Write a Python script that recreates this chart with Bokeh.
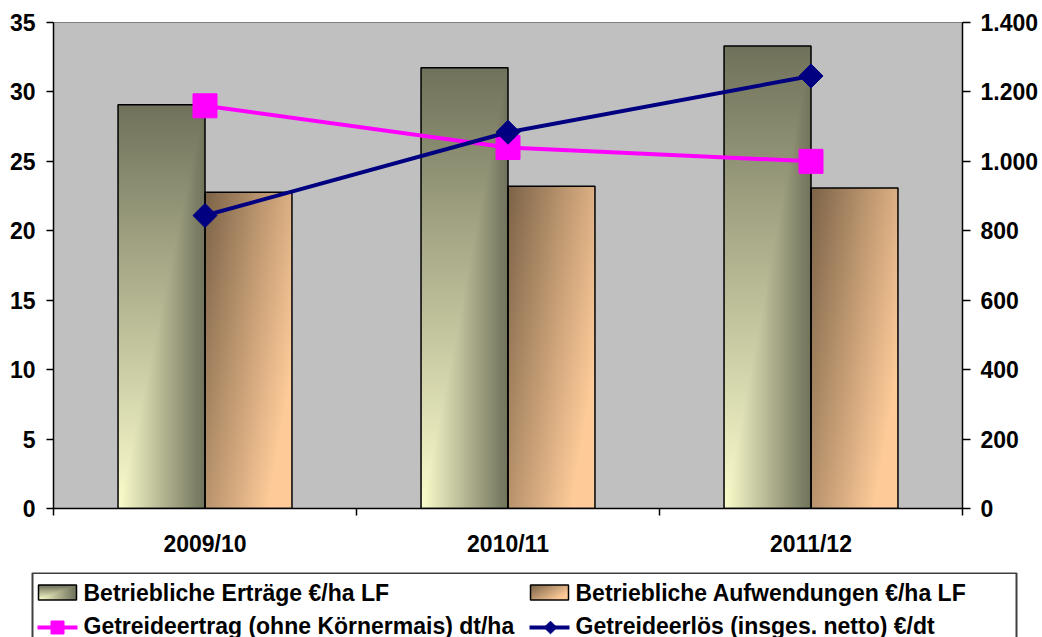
import numpy as np
from bokeh.plotting import figure
from bokeh.models import Range1d, LinearAxis, FixedTicker
from bokeh.layouts import column
from bokeh.embed import file_html
from bokeh.resources import INLINE
from bokeh.core.properties import value

# ---------------- data ----------------
years = ["2009/10", "2010/11", "2011/12"]
ertraege = [1163, 1270, 1332]            # Betriebliche Erträge €/ha LF (right axis)
aufwendungen = [911, 928, 923]           # Betriebliche Aufwendungen €/ha LF (right axis)
getreideertrag = [29.0, 26.0, 25.0]      # Getreideertrag dt/ha (left axis)
getreideerloes = [21.1, 27.1, 31.15]     # Getreideerlös €/dt (left axis)

left_ticks = [0, 5, 10, 15, 20, 25, 30, 35]
right_ticks = [0, 200, 400, 600, 800, 1000, 1200, 1400]
right_tick_labels = ["0", "200", "400", "600", "800", "1.000", "1.200", "1.400"]

legend_labels = [
    "Betriebliche Erträge €/ha LF",
    "Betriebliche Aufwendungen €/ha LF",
    "Getreideertrag (ohne Körnermais) dt/ha",
    "Getreideerlös (insges. netto) €/dt",
]

FONT = "Liberation Sans"
BAR_W = 0.287
MAGENTA = "#FF00FF"
NAVY = "#000080"


def gradient(kind, w, h):
    u = np.linspace(0, 1, w)[None, :]
    v = np.linspace(0, 1, h)[:, None]  # row 0 = bottom
    if kind == "ertrag":
        t = np.maximum(u, v)
        c0 = np.array([252, 253, 204], dtype=float)
        c1 = np.array([111, 113, 90], dtype=float)
    else:
        t = np.clip(0.74 * u + 0.47 * (1 - v), 0, 1)
        c0 = np.array([125, 100, 72], dtype=float)
        c1 = np.array([253, 202, 152], dtype=float)
    rgb = c0 + (c1 - c0) * t[..., None]
    img = np.empty((h, w, 4), dtype=np.uint8)
    img[..., :3] = np.round(rgb).astype(np.uint8)
    img[..., 3] = 255
    return img.view(np.uint32).reshape(h, w)


# ---------------- main chart ----------------
FW, FH = 909, 486
p = figure(frame_width=FW, frame_height=FH,
           x_range=Range1d(-0.5, 2.5), y_range=Range1d(0, 35),
           output_backend="svg", toolbar_location=None,
           min_border_left=53, min_border_right=80,
           min_border_top=22, min_border_bottom=64,
           background_fill_color="#C0C0C0", border_fill_color="white",
           outline_line_color="#808080")
p.frame_align = False
p.extra_y_ranges = {"right": Range1d(0, 1400)}
for g in p.grid:
    g.visible = False

idx = np.arange(len(years))
px_per_unit = FH / 1400.0

for i, val in enumerate(ertraege):
    h = max(2, int(round(val * px_per_unit)))
    p.image_rgba(image=[gradient("ertrag", 88, h)], x=i - BAR_W, y=0,
                 dw=BAR_W, dh=val, y_range_name="right")
for i, val in enumerate(aufwendungen):
    h = max(2, int(round(val * px_per_unit)))
    p.image_rgba(image=[gradient("aufw", 88, h)], x=i, y=0,
                 dw=BAR_W, dh=val, y_range_name="right")

p.vbar(x=idx - BAR_W / 2, width=BAR_W, top=ertraege, bottom=0,
       fill_alpha=0, line_color="black", line_width=1.5, y_range_name="right")
p.vbar(x=idx + BAR_W / 2, width=BAR_W, top=aufwendungen, bottom=0,
       fill_alpha=0, line_color="black", line_width=1.5, y_range_name="right")

p.line(idx, getreideertrag, line_color=MAGENTA, line_width=4)
p.scatter(idx, getreideertrag, marker="square", size=24,
          fill_color=MAGENTA, line_color=MAGENTA)
p.line(idx, getreideerloes, line_color=NAVY, line_width=4)
p.scatter(idx, getreideerloes, marker="square", angle=np.pi / 4, size=17,
          fill_color=NAVY, line_color=NAVY)


def style_axis(ax):
    ax.axis_line_color = "black"
    ax.axis_line_width = 1.5
    ax.major_tick_line_color = "black"
    ax.major_tick_line_width = 1.5
    ax.major_tick_in = 0
    ax.major_tick_out = 7
    ax.minor_tick_line_color = None
    ax.major_label_text_font = FONT
    ax.major_label_text_font_style = "bold"
    ax.major_label_text_font_size = "23px"
    ax.major_label_text_color = "black"


yl = p.yaxis[0]
style_axis(yl)
yl.ticker = FixedTicker(ticks=left_ticks)
yl.major_label_standoff = 11

yr = LinearAxis(y_range_name="right")
style_axis(yr)
yr.ticker = FixedTicker(ticks=right_ticks)
yr.major_label_overrides = {t: l for t, l in zip(right_ticks, right_tick_labels)}
yr.major_tick_out = 8
yr.major_label_standoff = 10
p.add_layout(yr, "right")

xa = p.xaxis[0]
style_axis(xa)
xa.ticker = FixedTicker(ticks=list(idx), minor_ticks=[-0.5, 0.5, 1.5, 2.5])
xa.major_label_overrides = {int(i): y for i, y in zip(idx, years)}
xa.major_tick_line_color = None
xa.major_tick_out = 0
xa.minor_tick_line_color = "black"
xa.minor_tick_line_width = 1.5
xa.minor_tick_in = 0
xa.minor_tick_out = 7
xa.major_label_standoff = 15

# ---------------- legend ----------------
LW, LH = 1042, 65
lg = figure(frame_width=LW, frame_height=LH, x_range=Range1d(0, LW), y_range=Range1d(0, LH),
            output_backend="svg", toolbar_location=None,
            x_axis_type=None, y_axis_type=None,
            min_border=0, min_border_left=0, min_border_right=0,
            min_border_top=0, min_border_bottom=0,
            outline_line_color=None, background_fill_color="white",
            border_fill_color="white")
lg.frame_align = False
for g in lg.grid:
    g.visible = False

lg.line(x=[32, 32, 1016, 1016], y=[-10, 64.5, 64.5, -10], line_color="#404040", line_width=2)

r1, r2 = 45, 12
col_sw = [38, 530]
col_tx = [83, 575]

# bar swatches
lg.image_rgba(image=[gradient("ertrag", 38, 15)], x=col_sw[0], y=r1 - 7.5, dw=38, dh=15)
lg.image_rgba(image=[gradient("aufw", 38, 15)], x=col_sw[1], y=r1 - 7.5, dw=38, dh=15)
lg.quad(left=[col_sw[0], col_sw[1]], right=[col_sw[0] + 38, col_sw[1] + 38],
        bottom=[r1 - 7.5, r1 - 7.5], top=[r1 + 7.5, r1 + 7.5],
        fill_alpha=0, line_color="black", line_width=1.5)

# line swatches
lg.line(x=[col_sw[0] - 1, col_sw[0] + 39], y=[r2 - 2, r2 - 2], line_color=MAGENTA, line_width=4)
lg.scatter(x=[col_sw[0] + 19], y=[r2 - 2], marker="square", size=13,
           fill_color=MAGENTA, line_color=MAGENTA)
lg.line(x=[col_sw[1] - 1, col_sw[1] + 39], y=[r2 - 2, r2 - 2], line_color=NAVY, line_width=4)
lg.scatter(x=[col_sw[1] + 20], y=[r2 - 2], marker="square", angle=np.pi / 4, size=9,
           fill_color=NAVY, line_color=NAVY)

lg.text(x=[col_tx[0], col_tx[1], col_tx[0], col_tx[1]], y=[r1, r1, r2, r2],
        text=legend_labels, text_font=value(FONT), text_font_style="bold",
        text_font_size="23px", text_baseline="middle", text_align="left",
        text_color="black")

layout = column(p, lg)
open("out.html", "w").write(file_html(layout, INLINE))
